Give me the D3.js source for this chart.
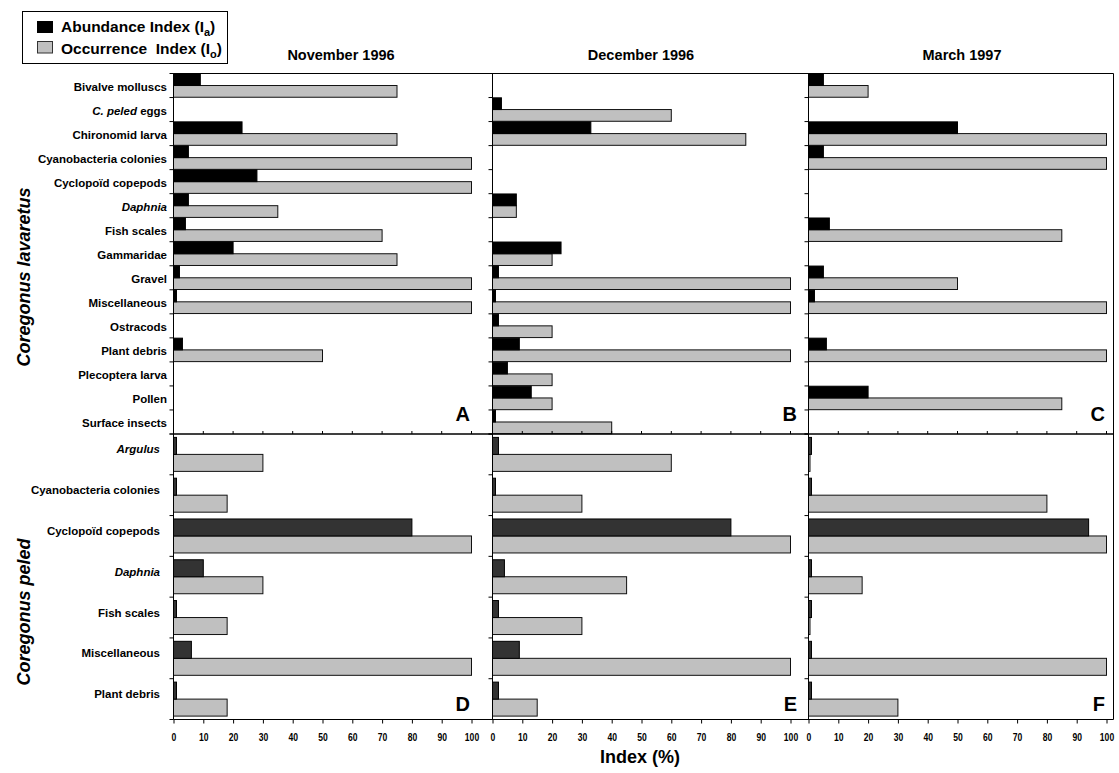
<!DOCTYPE html>
<html>
<head>
<meta charset="utf-8">
<script src="https://cdn.jsdelivr.net/npm/d3@7"></script>
<style>
  html, body { margin: 0; padding: 0; background: #fff; }
  svg { display: block; }
</style>
</head>
<body>
<svg id="chart" width="1119" height="773"></svg>
<script>
// Diet composition of two whitefish species: abundance index (Ia) and occurrence index (Io), in %.

const lavaretusPrey = ["Bivalve molluscs", "C. peled eggs", "Chironomid larva", "Cyanobacteria colonies",
  "Cyclopoïd copepods", "Daphnia", "Fish scales", "Gammaridae", "Gravel", "Miscellaneous",
  "Ostracods", "Plant debris", "Plecoptera larva", "Pollen", "Surface insects"];
const peledPrey = ["Argulus", "Cyanobacteria colonies", "Cyclopoïd copepods", "Daphnia",
  "Fish scales", "Miscellaneous", "Plant debris"];
const italicTerms = ["C. peled", "Daphnia", "Argulus"];

const months = ["November 1996", "December 1996", "March 1997"];
const xTicks = [0, 10, 20, 30, 40, 50, 60, 70, 80, 90, 100];

// Coregonus lavaretus
const lavNovIa = [9, 0, 23, 5, 28, 5, 4, 20, 2, 1, 0, 3, 0, 0, 0];
const lavNovIo = [75, 0, 75, 100, 100, 35, 70, 75, 100, 100, 0, 50, 0, 0, 0];
const lavDecIa = [0, 3, 33, 0, 0, 8, 0, 23, 2, 1, 2, 9, 5, 13, 1];
const lavDecIo = [0, 60, 85, 0, 0, 8, 0, 20, 100, 100, 20, 100, 20, 20, 40];
const lavMarIa = [5, 0, 50, 5, 0, 0, 7, 0, 5, 2, 0, 6, 0, 20, 0];
const lavMarIo = [20, 0, 100, 100, 0, 0, 85, 0, 50, 100, 0, 100, 0, 85, 0];

// Coregonus peled
const pelNovIa = [1, 1, 80, 10, 1, 6, 1];
const pelNovIo = [30, 18, 100, 30, 18, 100, 18];
const pelDecIa = [2, 1, 80, 4, 2, 9, 2];
const pelDecIo = [60, 30, 100, 45, 30, 100, 15];
const pelMarIa = [1, 1, 94, 1, 1, 1, 1];
const pelMarIo = [0.5, 80, 100, 18, 0.5, 100, 30];

const panelLetters = ["A", "B", "C", "D", "E", "F"];

// ---------- layout ----------
const FONT = "'Liberation Sans', Arial, Helvetica, sans-serif";
const colLayout = [
  { x0: 173.5, right: 492.5, letterX: 470 },
  { x0: 492.5, right: 808.5, letterX: 797 },
  { x0: 808.5, right: 1113.5, letterX: 1105 }
];
const unitSpan = 298;            // pixels from 0 to 100 %
const rowLayout = [
  { y0: 73.5, y1: 434, pad: 0.025, dark: "#000", labelX: 167, labelDy: 1, letterY: 421 },
  { y0: 434, y1: 719.5, pad: 0.2, dark: "#333", labelX: 160, labelDy: -5, letterY: 711 }
];
const GREY = "#c0c0c0";

const svg = d3.select("#chart");
svg.append("rect").attr("width", 1119).attr("height", 773).attr("fill", "#fff");

const rowsData = [
  { cats: lavaretusPrey, ia: [lavNovIa, lavDecIa, lavMarIa], io: [lavNovIo, lavDecIo, lavMarIo] },
  { cats: peledPrey, ia: [pelNovIa, pelDecIa, pelMarIa], io: [pelNovIo, pelDecIo, pelMarIo] }
];

function labelText(sel, label) {
  const term = italicTerms.find(t => label.startsWith(t));
  if (term) {
    sel.append("tspan").attr("font-style", "italic").text(term);
    const rest = label.slice(term.length);
    if (rest) sel.append("tspan").text(rest);
  } else {
    sel.text(label);
  }
}

rowsData.forEach((row, r) => {
  const L = rowLayout[r];
  const y = d3.scaleBand().domain(row.cats).range([L.y0, L.y1]).padding(0);
  const sub = d3.scaleBand().domain(["Ia", "Io"]).range([0, y.bandwidth()])
    .paddingInner(0).paddingOuter(L.pad);

  // category labels
  const lab = svg.append("g").attr("font-family", FONT).attr("font-size", 11.5)
    .attr("font-weight", "bold").attr("text-anchor", "end");
  row.cats.forEach(c => {
    const t = lab.append("text")
      .attr("x", L.labelX)
      .attr("y", y(c) + y.bandwidth() / 2 + L.labelDy)
      .attr("dominant-baseline", "central");
    labelText(t, c);
  });

  colLayout.forEach((C, c) => {
    const x = d3.scaleLinear().domain([0, 100]).range([C.x0, C.x0 + unitSpan]);
    const g = svg.append("g");

    const rows = row.cats.map((cat, i) => ({ cat, ia: row.ia[c][i], io: row.io[c][i] }));

    g.selectAll("rect.io").data(rows.filter(d => d.io > 0)).join("rect")
      .attr("class", "io")
      .attr("x", x(0))
      .attr("y", d => y(d.cat) + sub("Io"))
      .attr("width", d => x(d.io) - x(0))
      .attr("height", sub.bandwidth())
      .attr("fill", GREY).attr("stroke", "#111").attr("stroke-width", 1);

    g.selectAll("rect.ia").data(rows.filter(d => d.ia > 0)).join("rect")
      .attr("class", "ia")
      .attr("x", x(0))
      .attr("y", d => y(d.cat) + sub("Ia"))
      .attr("width", d => x(d.ia) - x(0))
      .attr("height", sub.bandwidth())
      .attr("fill", L.dark).attr("stroke", "#000").attr("stroke-width", 1);

    // left (category) axis with ticks at band boundaries
    const bounds = row.cats.map(cat => y(cat)).concat([L.y1]);
    g.append("line").attr("x1", C.x0).attr("x2", C.x0).attr("y1", L.y0).attr("y2", L.y1)
      .attr("stroke", "#000");
    g.selectAll("line.ct").data(bounds).join("line").attr("class", "ct")
      .attr("x1", C.x0 - 4).attr("x2", C.x0).attr("y1", d => d).attr("y2", d => d)
      .attr("stroke", "#000");

    // value ticks along the lower edge of each panel
    if (r === 0) {
      g.selectAll("line.vt").data(xTicks).join("line").attr("class", "vt")
        .attr("x1", d => x(d)).attr("x2", d => x(d)).attr("y1", L.y1 - 3).attr("y2", L.y1)
        .attr("stroke", "#000");
    } else {
      const ax = svg.append("g").attr("transform", `translate(0,${L.y1})`)
        .call(d3.axisBottom(x).tickValues(xTicks).tickSize(4).tickPadding(10).tickFormat(d3.format("d")));
      ax.select(".domain").remove();
      ax.selectAll("line").attr("stroke", "#000");
      ax.selectAll("text")
        .attr("font-family", FONT).attr("font-size", 11).attr("font-weight", "bold")
        .attr("fill", "#000").attr("transform", "scale(0.78,1)");
    }

    // panel letter
    svg.append("text").attr("x", C.letterX).attr("y", L.letterY)
      .attr("text-anchor", "end").attr("font-family", FONT).attr("font-size", 20)
      .attr("font-weight", "bold").text(panelLetters[r * 3 + c]);
  });

  // horizontal panel edges
  svg.append("line").attr("x1", colLayout[0].x0).attr("x2", colLayout[2].right)
    .attr("y1", L.y0).attr("y2", L.y0).attr("stroke", "#000");
  svg.append("line").attr("x1", colLayout[0].x0).attr("x2", colLayout[2].right)
    .attr("y1", L.y1).attr("y2", L.y1).attr("stroke", "#000");
});

// right edge of the figure frame
svg.append("line").attr("x1", colLayout[2].right).attr("x2", colLayout[2].right)
  .attr("y1", rowLayout[0].y0).attr("y2", rowLayout[1].y1).attr("stroke", "#000");

// month titles
svg.append("g").selectAll("text").data(months).join("text")
  .attr("x", (d, i) => [341, 641, 962][i]).attr("y", 60)
  .attr("text-anchor", "middle").attr("font-family", FONT).attr("font-size", 14.5)
  .attr("font-weight", "bold").text(d => d);

// species titles
[["Coregonus lavaretus", 277], ["Coregonus peled", 612]].forEach(([t, cy]) => {
  svg.append("text").attr("transform", `translate(30,${cy}) rotate(-90)`)
    .attr("text-anchor", "middle").attr("font-family", FONT).attr("font-size", 18)
    .attr("font-weight", "bold").attr("font-style", "italic").text(t);
});

// x-axis title
svg.append("text").attr("x", 640).attr("y", 763).attr("text-anchor", "middle")
  .attr("font-family", FONT).attr("font-size", 18).attr("font-weight", "bold").text("Index (%)");

// legend
const leg = svg.append("g").attr("font-family", FONT).attr("font-weight", "bold").attr("font-size", 15.5);
leg.append("rect").attr("x", 22.5).attr("y", 11.5).attr("width", 205).attr("height", 52)
  .attr("fill", "#fff").attr("stroke", "#000");
leg.append("rect").attr("x", 37).attr("y", 21).attr("width", 16).attr("height", 12).attr("fill", "#000");
leg.append("rect").attr("x", 37.5).attr("y", 41.5).attr("width", 15).attr("height", 11.5)
  .attr("fill", GREY).attr("stroke", "#333");
[["Abundance Index (I", "a", ")", 32], ["Occurrence\u00a0 Index (I", "o", ")", 54]].forEach(([a, s, b, yy]) => {
  const t = leg.append("text").attr("x", 61).attr("y", yy);
  t.append("tspan").text(a);
  t.append("tspan").attr("font-size", 11).attr("dy", 4).text(s);
  t.append("tspan").attr("dy", -4).text(b);
});
</script>
</body>
</html>
